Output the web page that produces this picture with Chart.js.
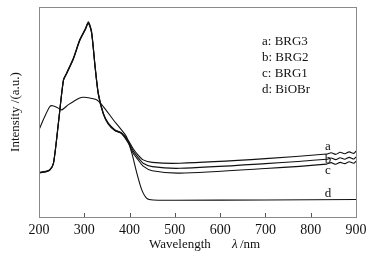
<!DOCTYPE html>
<html>
<head>
<meta charset="utf-8">
<script src="https://cdn.jsdelivr.net/npm/chart.js@4"></script>
<style>
  html, body { margin: 0; padding: 0; background: #fff; }
  #wrap { width: 384px; height: 260px; }
</style>
</head>
<body>
<div id="wrap"><canvas id="uvvis"></canvas></div>
<script>
// wavelength (nm) and intensity (a.u., 0 = bottom of frame, 100 = top)
const lamA = [200, 215, 224, 232, 243, 254, 261, 276, 290, 302, 309, 316, 324, 331, 342, 353, 368, 382, 397, 408, 419, 430, 450, 511, 700, 835, 845, 855, 865, 875, 885, 895, 900];
const intA = [21.1, 21.6, 22.4, 25.6, 45, 65.4, 68.6, 75.7, 84.5, 89.3, 93, 88.5, 71.7, 59, 49.5, 44.7, 41.5, 40, 36.5, 32.5, 29.5, 27.2, 26, 25.6, 27.8, 30, 30.6, 29.8, 30.8, 30.1, 31, 30.3, 31.4];
const intB = [21.3, 21.8, 22.6, 25.8, 45.2, 65.2, 68.4, 75.5, 84.2, 89.5, 92.5, 88, 71.2, 58.6, 49.2, 44.4, 41.2, 40, 35.8, 31.5, 28.3, 25.6, 24, 23.2, 25.4, 27.5, 28.1, 27.3, 28.2, 27.5, 28.4, 27.6, 28.6];
const intC = [21.0, 21.5, 22.3, 25.5, 44.8, 65, 68.2, 75.2, 84, 89, 92.1, 87.7, 71, 58.3, 49, 44.2, 41, 39.8, 35.2, 30.4, 27.2, 24.2, 22, 20.9, 23.1, 25.2, 25.9, 25.1, 26, 25.4, 26.3, 25.6, 26.6];
const lamD = [200, 212, 224, 230, 240, 250, 265, 290, 300, 327, 342, 364, 379, 393, 405, 416, 427, 438, 452, 500, 700, 900];
const intD = [41.5, 47.5, 52.6, 53, 52.2, 51, 53.5, 56.7, 57, 55.8, 52.6, 46.3, 42.3, 38.3, 30.4, 20.9, 12.9, 8.9, 8.1, 8.0, 8.1, 8.3];
const xTicks = [200, 300, 400, 500, 600, 700, 800, 900];
const legendLines = ['a: BRG3', 'b: BRG2', 'c: BRG1', 'd: BiOBr'];
const curveTags = [
  { tag: 'a', lam: 838, val: 33.5 },
  { tag: 'b', lam: 838, val: 27.2 },
  { tag: 'c', lam: 838, val: 22.0 },
  { tag: 'd', lam: 838, val: 11.0 }
];

function pts(xs, ys) {
  return xs.map((x, i) => ({ x: x, y: ys[i] }));
}

const serif = '"Liberation Serif", "Times New Roman", serif';

const lineStyle = {
  borderColor: '#111',
  borderWidth: 1.1,
  pointRadius: 0,
  tension: 0.25,
  fill: false
};

// frame, inward ticks, curve tags, legend text and axis titles
const decor = {
  id: 'decor',
  afterDraw(chart) {
    const { ctx, chartArea: ca, scales } = chart;
    const xs = scales.x, ys = scales.y;
    ctx.save();
    ctx.strokeStyle = '#8a8a8a';
    ctx.lineWidth = 1;
    ctx.strokeRect(Math.round(ca.left) + 0.5, Math.round(ca.top) + 0.5,
      Math.round(ca.right - ca.left), Math.round(ca.bottom - ca.top));
    ctx.strokeStyle = '#555';
    xTicks.slice(1, -1).forEach(t => {
      const px = Math.round(xs.getPixelForValue(t)) + 0.5;
      ctx.beginPath();
      ctx.moveTo(px, ca.bottom);
      ctx.lineTo(px, ca.bottom - 4);
      ctx.stroke();
    });

    ctx.fillStyle = '#111';
    ctx.font = '13px ' + serif;
    ctx.textAlign = 'center';
    ctx.textBaseline = 'middle';
    curveTags.forEach(c => {
      ctx.fillText(c.tag, xs.getPixelForValue(c.lam), ys.getPixelForValue(c.val));
    });

    ctx.textAlign = 'left';
    legendLines.forEach((s, i) => {
      ctx.fillText(s, 262, 42 + i * 16);
    });

    // x title
    ctx.textBaseline = 'middle';
    ctx.fillText('Wavelength', 149, 245);
    ctx.font = 'italic 13px ' + serif;
    ctx.fillText('\u03bb', 232, 245);
    ctx.font = '13px ' + serif;
    ctx.fillText('/nm', 240, 245);

    // y title
    ctx.translate(16, (ca.top + ca.bottom) / 2);
    ctx.rotate(-Math.PI / 2);
    ctx.textAlign = 'center';
    ctx.fillText('Intensity /(a.u.)', 0, 0);
    ctx.restore();
  }
};

new Chart(document.getElementById('uvvis'), {
  type: 'line',
  data: {
    datasets: [
      { label: 'a: BRG3', data: pts(lamA, intA), ...lineStyle },
      { label: 'b: BRG2', data: pts(lamA, intB), ...lineStyle },
      { label: 'c: BRG1', data: pts(lamA, intC), ...lineStyle },
      { label: 'd: BiOBr', data: pts(lamD, intD), ...lineStyle }
    ]
  },
  options: {
    responsive: true,
    maintainAspectRatio: false,
    animation: false,
    layout: { padding: { top: 7, right: 28, left: 0, bottom: 0 } },
    plugins: { legend: { display: false }, tooltip: { enabled: false } },
    scales: {
      x: {
        type: 'linear',
        min: 200,
        max: 900,
        afterBuildTicks: s => { s.ticks = xTicks.map(v => ({ value: v })); },
        afterFit: s => { s.height = 43; },
        grid: { display: false },
        border: { display: false },
        ticks: { color: '#111', padding: -3, maxRotation: 0, font: { family: serif, size: 14 } }
      },
      y: {
        min: 0,
        max: 100,
        afterFit: s => { s.width = 39; },
        grid: { display: false },
        border: { display: false },
        ticks: { display: false }
      }
    }
  },
  plugins: [decor]
});
</script>
</body>
</html>
